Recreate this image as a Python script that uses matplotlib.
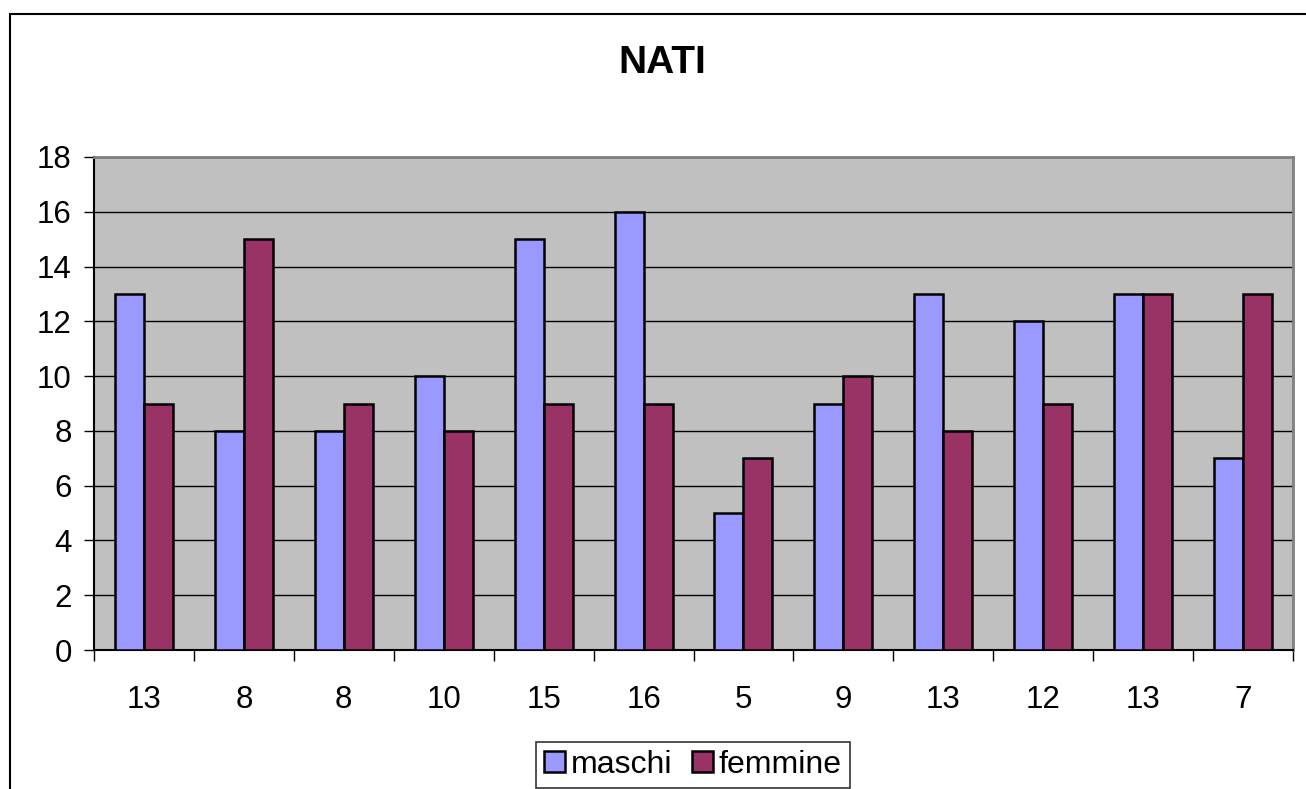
import numpy as np
import matplotlib.pyplot as plt
from matplotlib.patches import Rectangle

plt.rcParams['font.family'] = ['Liberation Sans', 'DejaVu Sans']

# data
labels = ['13', '8', '8', '10', '15', '16', '5', '9', '13', '12', '13', '7']
maschi = [13, 8, 8, 10, 15, 16, 5, 9, 13, 12, 13, 7]
femmine = [9, 15, 9, 8, 9, 9, 7, 10, 8, 9, 13, 13]
yticks = list(range(0, 19, 2))

fig = plt.figure(figsize=(13.06, 7.89), dpi=100)
ax = fig.add_axes([94 / 1306, 1 - 650 / 789, (1293 - 94) / 1306, (650 - 157) / 789])

x = np.arange(len(labels))
w = 0.29
ax.bar(x - w / 2, maschi, w, color='#9999FF', edgecolor='black', linewidth=1.8,
       label='maschi', zorder=3)
ax.bar(x + w / 2, femmine, w, color='#993366', edgecolor='black', linewidth=1.8,
       label='femmine', zorder=3)

ax.set_facecolor('#C0C0C0')
ax.set_xlim(-0.5, len(labels) - 0.5)
ax.set_ylim(0, 18)
ax.set_yticks(yticks)
ax.yaxis.grid(True, color='black', linewidth=1, zorder=1)
ax.set_axisbelow(True)

ax.set_xticks(x)
ax.set_xticklabels(labels)
ax.set_xticks(np.arange(-0.5, len(labels)), minor=True)
ax.tick_params(axis='x', which='major', length=0, pad=25, labelsize=22.5)
ax.tick_params(axis='x', which='minor', length=8, width=1, direction='out')
ax.tick_params(axis='y', length=7, width=1, direction='out', pad=9, labelsize=22.5)

for s in ['left', 'bottom']:
    ax.spines[s].set_color('black')
    ax.spines[s].set_linewidth(1.5)
for s in ['top', 'right']:
    ax.spines[s].set_color('#808080')
    ax.spines[s].set_linewidth(2)

fig.text(662 / 1306, 1 - 63 / 789, 'NATI', ha='center', va='center',
         fontsize=28, fontweight='bold')

# outer chart border, clipped on right and bottom
fig.patches.append(Rectangle((10 / 1306, -0.1), 1.1, (1 - 14 / 789) + 0.1,
                             transform=fig.transFigure, fill=False,
                             edgecolor='black', linewidth=1.5))

leg = fig.legend(loc='upper center', bbox_to_anchor=(693 / 1306, 1 - 742 / 789),
                 ncol=2, fontsize=23, frameon=True, fancybox=False,
                 handlelength=0.65, handleheight=0.65, handletextpad=0.2,
                 columnspacing=0.6, borderpad=0.25, borderaxespad=0)
leg.get_frame().set_edgecolor('black')
leg.get_frame().set_linewidth(1.2)

plt.savefig('out.png', dpi=100)
